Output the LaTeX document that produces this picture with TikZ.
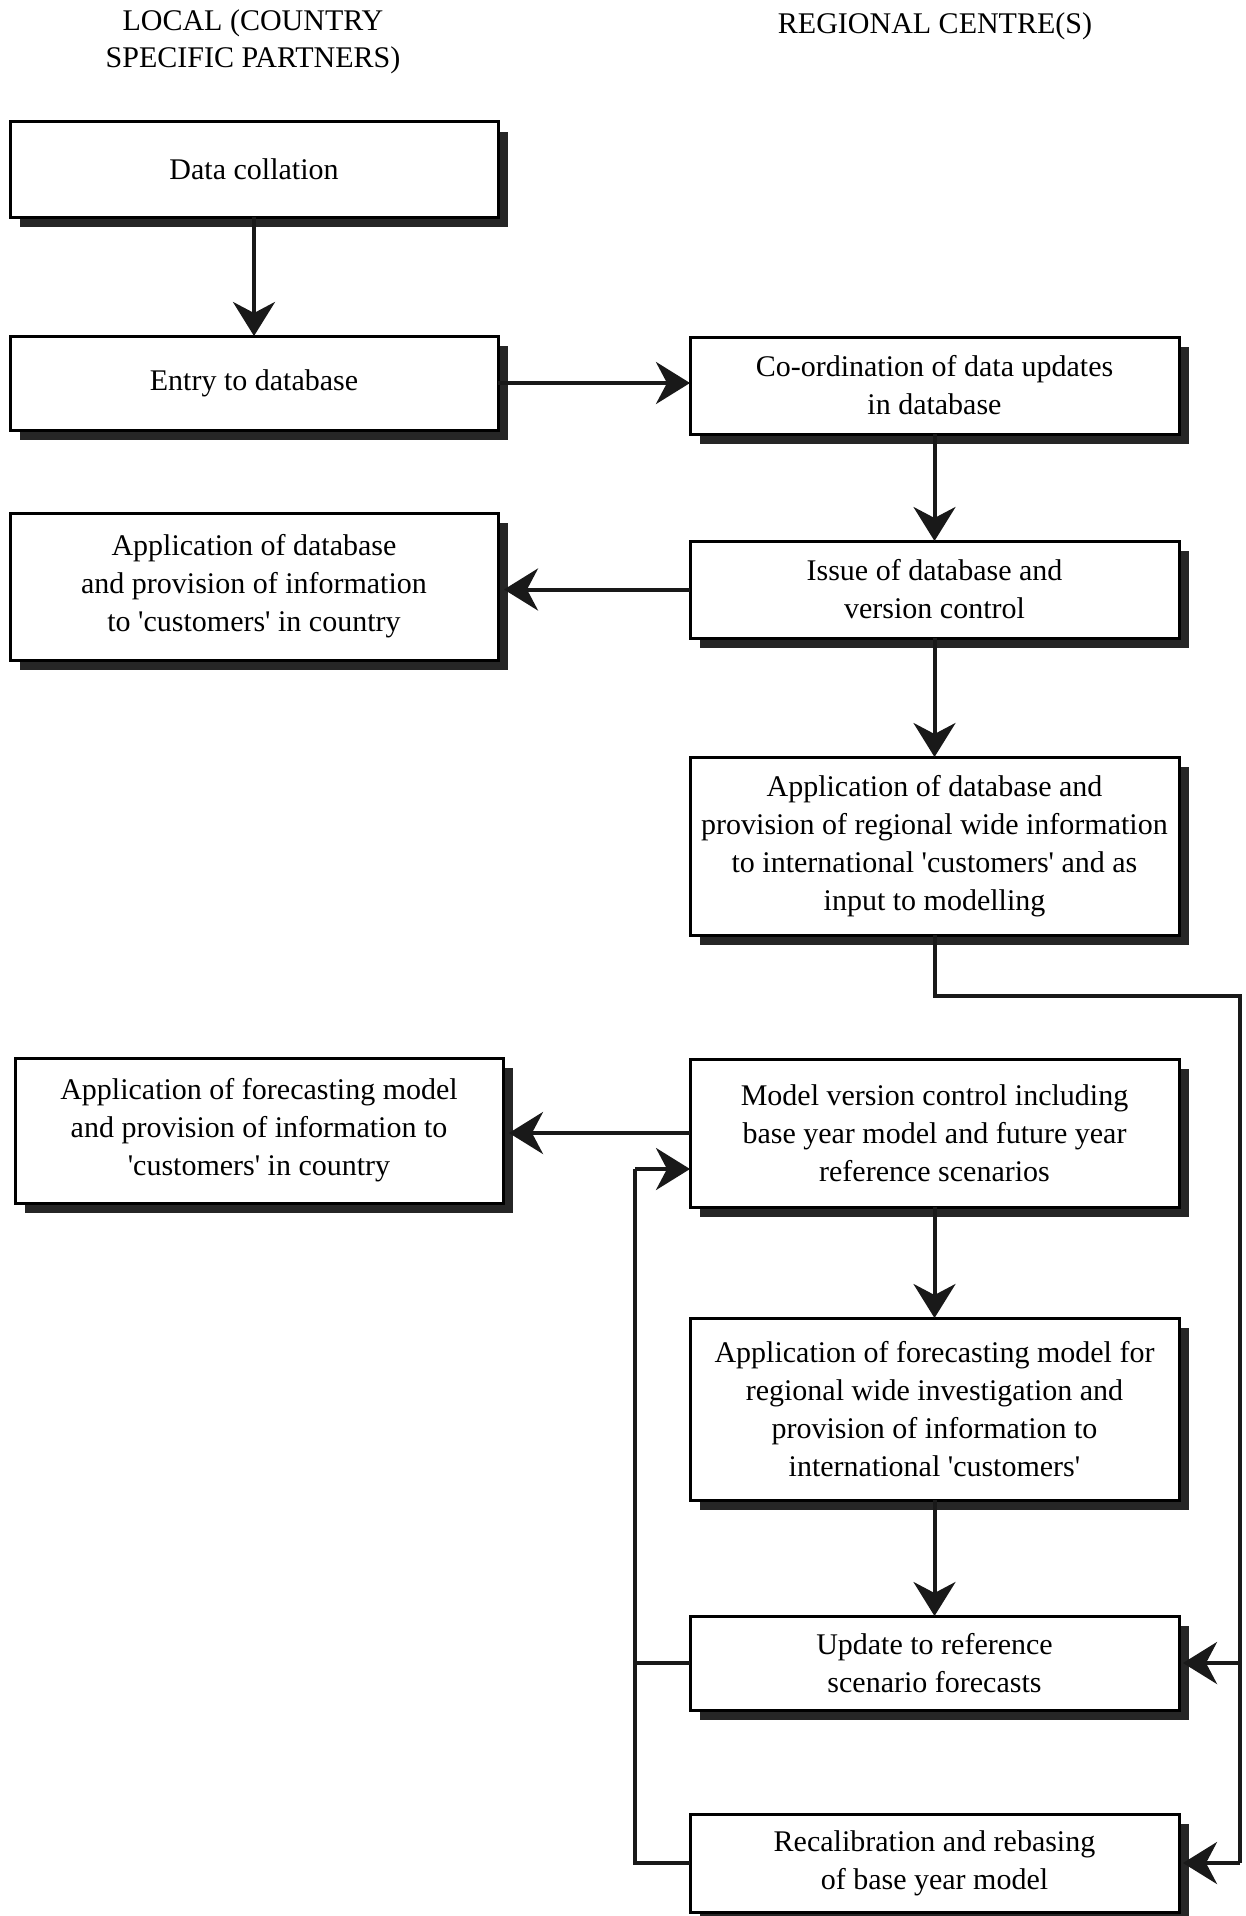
\documentclass[tikz,border=0pt]{standalone}
\usepackage{fontspec}
\setmainfont{Liberation Serif}
\usetikzlibrary{arrows.meta,shadows}
\begin{document}
\begin{tikzpicture}[x=0.5pt,y=-0.5pt,
 box/.style={draw=black, line width=1.5pt, fill=white, inner sep=0pt, outer sep=0pt,
   align=center, font=\fontsize{15}{19}\selectfont,
   drop shadow={shadow xshift=5pt, shadow yshift=-5pt, opacity=1, fill=black!85}},
 lbox/.style={box, minimum width=244pt},
 rbox/.style={box, minimum width=244.5pt},
 conn/.style={line width=2pt, draw=black!90},
 arr/.style={conn, -{Stealth[length=17pt,width=21pt,inset=5.5pt]}},
 hdr/.style={align=center, font=\fontsize{15}{18.5}\selectfont}
]
\useasboundingbox (0,0) rectangle (1246,1916);
\fill[white] (0,0) rectangle (1246,1916);

\node[hdr] (hl) at (253,42) {LOCAL (COUNTRY\\SPECIFIC PARTNERS)};
\node[hdr, anchor=north] (hr) at (935,6) {REGIONAL CENTRE(S)};

\node[lbox, minimum height=47.5pt] (b1) at (254,169.5) {Data collation};
\node[lbox, minimum height=47pt] (b2) at (254,383) {Entry to database};
\node[rbox, minimum height=48.5pt] (b3) at (934.5,385.5) {Co-ordination of data updates\\in database};
\node[lbox, minimum height=73.5pt] (b4) at (254,586.5) {Application of database\\and provision of information\\to \textquotesingle customers\textquotesingle\ in country};
\node[rbox, minimum height=48.5pt] (b5) at (934.5,589.5) {Issue of database and\\version control};
\node[rbox, minimum height=89pt] (b6) at (934.5,846) {Application of database and\\provision of regional wide information\\to international \textquotesingle customers\textquotesingle\ and as\\input to modelling};
\node[lbox, minimum height=72.5pt] (b7) at (259,1130.5) {Application of forecasting model\\and provision of information to\\\textquotesingle customers\textquotesingle\ in country};
\node[rbox, minimum height=74pt] (b8) at (934.5,1133) {Model version control including\\base year model and future year\\reference scenarios};
\node[rbox, minimum height=91pt] (b9) at (934.5,1409) {Application of forecasting model for\\regional wide investigation and\\provision of information to\\international \textquotesingle customers\textquotesingle};
\node[rbox, minimum height=47pt] (b10) at (934.5,1663) {Update to reference\\scenario forecasts};
\node[rbox, minimum height=49pt] (b11) at (934.5,1863) {Recalibration and rebasing\\of base year model};

\coordinate (rt) at (1240,996);
\coordinate (rb) at (1240,1863);
\coordinate (lt) at (635,1169);
\coordinate (lb) at (635,1863);

\draw[arr] (b1) -- (b2);
\draw[arr] (b2.east) -- (b2.east -| b3.west);
\draw[arr] (b3) -- (b5);
\draw[arr] (b5.west) -- ([xshift=3pt]b5.west -| b4.east);
\draw[arr] (b5) -- (b6);
\draw[conn] (b6.south) |- (rt) -- (rb);
\draw[arr] (rt |- b10.east) -- ([xshift=2pt]b10.east);
\draw[arr] (rb) -- ([xshift=2pt]b11.east);
\draw[arr] (b8.west) -- ([xshift=3pt]b8.west -| b7.east);
\draw[arr] (b8) -- (b9);
\draw[arr] (b9) -- (b10);
\draw[conn] (b11.west) -- (lb) -- (lt);
\draw[conn] (b10.west) -- (b10.west -| lb);
\draw[arr] (lt) -- (lt -| b8.west);
\end{tikzpicture}
\end{document}
